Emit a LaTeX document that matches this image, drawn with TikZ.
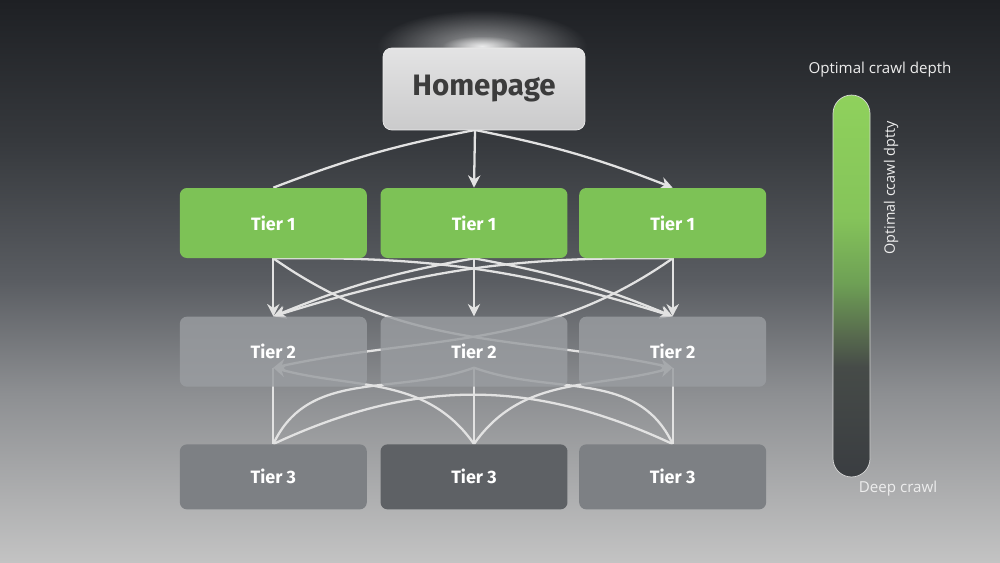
\documentclass[tikz,border=0pt]{standalone}
\usepackage{fontspec}
\setmainfont{Fira Sans}
\newfontfamily\labelfont{Open Sans}
\usetikzlibrary{positioning,arrows.meta,fadings}

\definecolor{homefill}{HTML}{DCDCDD}
\definecolor{hometext}{HTML}{3C3C3C}
\definecolor{tiergreen}{HTML}{7DC256}
\definecolor{tiergray}{HTML}{9A9DA1}
\definecolor{tierside}{HTML}{7D8084}
\definecolor{tiermid}{HTML}{5E6165}
\definecolor{linkgray}{HTML}{E2E2E2}
\definecolor{labelgray}{HTML}{EDEDED}

\pgfdeclareverticalshading{bgshade}{100bp}{color(0bp)=(rgb,255:red,195;green,195;blue,195); color(25bp)=(rgb,255:red,195;green,195;blue,195); color(40bp)=(rgb,255:red,141;green,143;blue,146); color(50bp)=(rgb,255:red,90;green,93;blue,98); color(62.5bp)=(rgb,255:red,54;green,57;blue,61); color(75bp)=(rgb,255:red,30;green,32;blue,36); color(100bp)=(rgb,255:red,30;green,32;blue,36)}
\pgfdeclareverticalshading{barshade}{100bp}{color(0bp)=(rgb,255:red,58;green,61;blue,65); color(25bp)=(rgb,255:red,58;green,61;blue,65); color(39.4bp)=(rgb,255:red,70;green,75;blue,72); color(43.8bp)=(rgb,255:red,88;green,108;blue,78); color(50.4bp)=(rgb,255:red,110;green,160;blue,85); color(59bp)=(rgb,255:red,133;green,196;blue,90); color(75bp)=(rgb,255:red,143;green,209;blue,92); color(100bp)=(rgb,255:red,143;green,209;blue,92)}
\tikzfading[name=glowfade, inner color=transparent!0, outer color=transparent!100]

\pgfdeclarelayer{bg}
\pgfdeclarelayer{links}
\pgfsetlayers{bg,links,main}

\tikzset{
  homebox/.style={rectangle, rounded corners=5pt, minimum width=4.04cm, minimum height=1.64cm,
    top color=homefill!80!white, bottom color=homefill!92!black, draw=white!85!gray, line width=0.4pt,
    text=hometext, font=\bfseries\fontsize{16.8}{19}\selectfont},
  tierbox/.style={rectangle, rounded corners=4pt, minimum width=3.74cm, minimum height=1.4cm,
    text=white, font=\bfseries\fontsize{10.2}{12}\selectfont},
  tierone/.style={tierbox, fill=tiergreen},
  tiertwo/.style={tierbox, fill=tiergray, fill opacity=0.82, text opacity=1},
  tierthree/.style={tierbox, minimum height=1.3cm, fill=tierside},
  depthbar/.style={rectangle, rounded corners=0.37cm, minimum width=0.74cm, minimum height=7.64cm,
    shading=barshade, draw=white!70!gray, line width=0.4pt},
  barlabel/.style={text=labelgray, font=\labelfont\fontsize{8.6}{10}\selectfont},
  link/.style={draw=linkgray, line width=1.3pt},
  arrowlink/.style={link, -{Stealth[length=7pt,width=7pt]}},
}

\begin{document}
\begin{tikzpicture}[x=0.02cm, y=0.02cm]
  \useasboundingbox (0,0) rectangle (1000,-562);
  \begin{pgfonlayer}{bg}
    \shade[shading=bgshade] (0,0) rectangle (1000,-562);
    \fill[white, fill opacity=0.55, path fading=glowfade] (482,-46) ellipse (105 and 36);
    \fill[white, fill opacity=0.8, path fading=glowfade] (482,-46) ellipse (40 and 10);
  \end{pgfonlayer}

  % homepage and tiers
  \node[homebox] (home) at (484,-89) {Homepage};
  \coordinate (hp) at (475,-130);

  \node[tierone] (t1b) at (474,-223) {Tier 1};
  \node[tierone, left=0.26cm of t1b] (t1a) {Tier 1};
  \node[tierone, right=0.22cm of t1b] (t1c) {Tier 1};

  \node[tiertwo, below=1.16cm of t1a] (t2a) {Tier 2};
  \node[tiertwo, below=1.16cm of t1b] (t2b) {Tier 2};
  \node[tiertwo, below=1.16cm of t1c] (t2c) {Tier 2};

  \node[tierthree, below=1.14cm of t2a] (t3a) {Tier 3};
  \node[tierthree, below=1.14cm of t2b, fill=tiermid] (t3b) {Tier 3};
  \node[tierthree, below=1.14cm of t2c] (t3c) {Tier 3};

  \coordinate (p2a) at ([yshift=-0.32cm]t2a.center);
  \coordinate (p2b) at ([yshift=-0.32cm]t2b.center);
  \coordinate (p2c) at ([yshift=-0.32cm]t2c.center);

  % links
  \begin{pgfonlayer}{links}
    \draw[link] (hp) to[bend right=5] (t1a.north);
    \draw[arrowlink] (hp) -- (t1b.north);
    \draw[arrowlink] (hp) to[bend left=5] (t1c.north);

    \foreach \t in {a,b,c}
      \draw[arrowlink] (t1\t.south) -- (t2\t.north);
    \draw[arrowlink] (t1b.south) to[bend right=6] (t2a.north);
    \draw[arrowlink] (t1c.south) to[bend right=9] (t2a.north);
    \draw[arrowlink] (t1a.south) to[bend left=9] (t2c.north);
    \draw[arrowlink] (t1b.south) to[bend left=6] (t2c.north);
    \draw[arrowlink] (t1a.south) to[out=-35, in=168] (p2c);
    \draw[arrowlink] (t1c.south) to[out=-145, in=12] (p2a);

    \foreach \t in {a,b,c}
      \draw[link] (t3\t.north) -- (p2\t);
    \draw[link] (t3a.north) to[out=65, in=-160] (p2b);
    \draw[link] (t3c.north) to[out=115, in=-20] (p2b);
    \draw[link] (t3a.north) to[out=25, in=155] (t3c.north);
    \draw[arrowlink] (t3b.north) to[out=125, in=-15] (p2a);
    \draw[arrowlink] (t3b.north) to[out=55, in=-165] (p2c);
  \end{pgfonlayer}

  % crawl depth scale
  \node[depthbar] (bar) at (851.5,-286) {};
  \node[barlabel] (toplabel) at (880,-70) {Optimal crawl depth};
  \node[barlabel, rotate=90, font=\labelfont\fontsize{8.2}{10}\selectfont] (sidelabel) at (891,-188) {Optimal ccawl dptty};
  \node[barlabel] (botlabel) at (898,-489) {Deep crawl};
\end{tikzpicture}
\end{document}
